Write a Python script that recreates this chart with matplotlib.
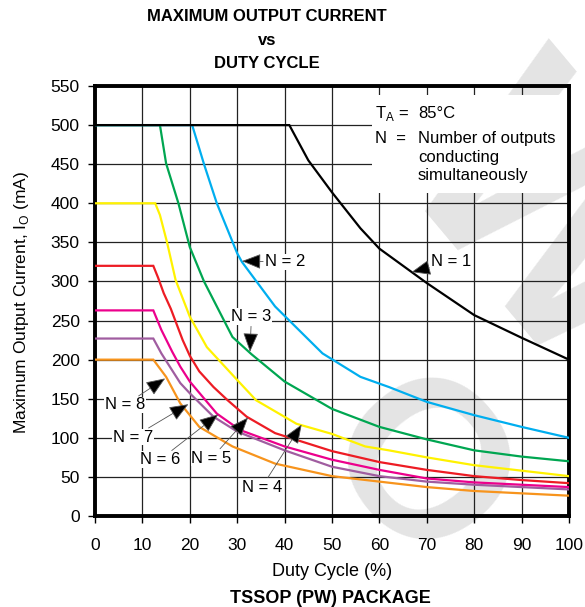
import matplotlib
matplotlib.use('Agg')
import matplotlib.pyplot as plt
from matplotlib.patches import Rectangle

# duty cycle (%) / max output current (mA) per number of outputs on
duty_n1 = [0, 41, 45, 50, 56, 60, 70, 80, 90, 100]
cur_n1 = [500, 500, 455, 414, 368, 342, 298, 257, 228, 200]

duty_n2 = [0, 20.5, 23, 25.7, 30, 31, 38, 40, 48, 56, 62, 70, 80, 90, 100]
cur_n2 = [500, 500, 450, 400, 336, 325, 268, 256, 208, 178, 165, 146, 129, 114, 100]

duty_n3 = [0, 13.7, 15, 17.6, 20, 23, 29, 33, 40, 50, 60, 70, 80, 90, 100]
cur_n3 = [500, 500, 451, 400, 344, 300, 229, 207, 172, 137, 114, 98, 84, 76, 70]

duty_n4 = [0, 12.7, 13.7, 15.2, 17, 20, 23.6, 30, 34, 42.5, 50, 57, 62, 70, 80, 90, 100]
cur_n4 = [400, 400, 385, 350, 302, 255, 216, 174, 148, 118, 105, 89, 84, 75, 65, 58, 51]

duty_n5 = [0, 12.3, 13.3, 14.5, 16, 18.5, 20, 22, 25, 28, 32, 38, 50, 60, 70, 80, 90, 100]
cur_n5 = [320, 320, 305, 285, 265, 225, 205, 185, 165, 148, 127, 106, 83, 69, 59, 51, 46, 42]

duty_n6 = [0, 12.3, 14, 16.3, 18, 20, 25.7, 30.6, 40, 50, 60, 70, 80, 90, 100]
cur_n6 = [263, 263, 238, 210, 191, 172, 131, 110, 89, 72, 59, 48, 43, 40, 37]

duty_n7 = [0, 12.3, 14, 16, 18, 20, 25, 30, 40, 50, 60, 70, 80, 90, 100]
cur_n7 = [227, 227, 208, 189, 170, 157, 127, 108, 84, 63, 51, 44, 40, 37, 34]

duty_n8 = [0, 12.3, 15, 18, 22, 29, 38, 50, 60, 70, 80, 90, 100]
cur_n8 = [200, 200, 178, 144, 114, 89, 67, 51, 44, 37, 32, 29, 26]

series = [
    (duty_n1, cur_n1, '#000000'),
    (duty_n2, cur_n2, '#00aeef'),
    (duty_n3, cur_n3, '#00a651'),
    (duty_n4, cur_n4, '#fff200'),
    (duty_n5, cur_n5, '#ed1c24'),
    (duty_n6, cur_n6, '#ec008c'),
    (duty_n7, cur_n7, '#a05da0'),
    (duty_n8, cur_n8, '#f7941d'),
]

# label text position and arrow tip for each N
label_names = ['N = 1', 'N = 2', 'N = 3', 'N = 4', 'N = 5', 'N = 6', 'N = 7', 'N = 8']
label_xy = [(75.2, 325), (40.2, 325), (33, 255), (35.2, 37), (24.6, 74), (13.7, 72), (8.1, 101), (6.3, 142)]
tip_xy = [(66.8, 312), (31, 326), (32.7, 210), (43.6, 117), (32.3, 126), (26, 130), (19.7, 143), (14.8, 176)]

x_ticks = list(range(0, 101, 10))
y_ticks = list(range(0, 551, 50))

plt.rcParams['font.family'] = ['Liberation Sans', 'DejaVu Sans']

fig = plt.figure(figsize=(5.85, 6.07), dpi=100)
ax = fig.add_axes([0.1624, 0.1499, 0.8102, 0.7084])
ax.set_facecolor('none')

# faint watermark letters behind the plot
fig.text(410 / 585, 1 - 478 / 607, 'O', rotation=-50, ha='center', va='center',
         rotation_mode='anchor', fontsize=160, fontweight='bold',
         color='#e4e4e4', zorder=-5)
fig.text(540 / 585, 1 - 228 / 607, 'W', rotation=-50, ha='center', va='center',
         rotation_mode='anchor', fontsize=215, fontweight='bold',
         color='#e4e4e4', zorder=-5)

# N = 1 drawn last so it sits on top of the shared 500 mA line
for xs, ys, c in reversed(series):
    ax.plot(xs, ys, color=c, lw=1.6, zorder=4, solid_joinstyle='miter')

ax.set_xlim(0, 100)
ax.set_ylim(0, 550)
ax.set_xticks(x_ticks)
ax.set_yticks(y_ticks)
ax.grid(True, color='#222222', lw=0.9)
ax.set_axisbelow(True)
for s in ax.spines.values():
    s.set_linewidth(2.8)
ax.tick_params(direction='out', length=5, width=1, labelsize=12.5, pad=6)
ax.tick_params(axis='x', pad=11)

# white box that hides the grid behind the notes
ax.add_patch(Rectangle((58.4, 413), 41.6, 125, facecolor='white', edgecolor='none', zorder=2))
ax.text(59.1, 515, 'T$_\\mathregular{A}$ =', fontsize=12, va='center', zorder=5)
ax.text(68.1, 515, '85°C', fontsize=12, va='center', zorder=5)
ax.text(59.1, 483, 'N  =', fontsize=12, va='center', zorder=5)
ax.text(68.1, 483, 'Number of outputs', fontsize=12, va='center', zorder=5)
ax.text(68.1, 459, 'conducting', fontsize=12, va='center', zorder=5)
ax.text(68.1, 435, 'simultaneously', fontsize=12, va='center', zorder=5)

for name, (tx, ty), (px, py) in zip(label_names, label_xy, tip_xy):
    ax.annotate(name, xy=(px, py), xytext=(tx, ty), fontsize=12,
                ha='center', va='center', zorder=6,
                bbox=dict(boxstyle='square,pad=0.05', fc='white', ec='none'),
                arrowprops=dict(arrowstyle='-|>,head_length=1.0,head_width=0.4',
                                fc='black', ec='#555555', lw=0.6,
                                shrinkA=1, shrinkB=0))

fig.text(0.456, 0.972, 'MAXIMUM OUTPUT CURRENT', ha='center', va='center',
         fontsize=12, fontweight='bold')
fig.text(0.456, 0.9325, 'vs', ha='center', va='center', fontsize=12, fontweight='bold')
fig.text(0.456, 0.8946, 'DUTY CYCLE', ha='center', va='center', fontsize=12, fontweight='bold')
fig.text(0.568, 0.0593, 'Duty Cycle (%)', ha='center', va='center', fontsize=13)
fig.text(0.565, 0.0148, 'TSSOP (PW) PACKAGE', ha='center', va='center',
         fontsize=13, fontweight='bold')
fig.text(0.037, 0.5025, 'Maximum Output Current, I$_\\mathregular{O}$ (mA)',
         rotation=90, ha='center', va='center', fontsize=12.5)

fig.savefig('out.png', dpi=100)
